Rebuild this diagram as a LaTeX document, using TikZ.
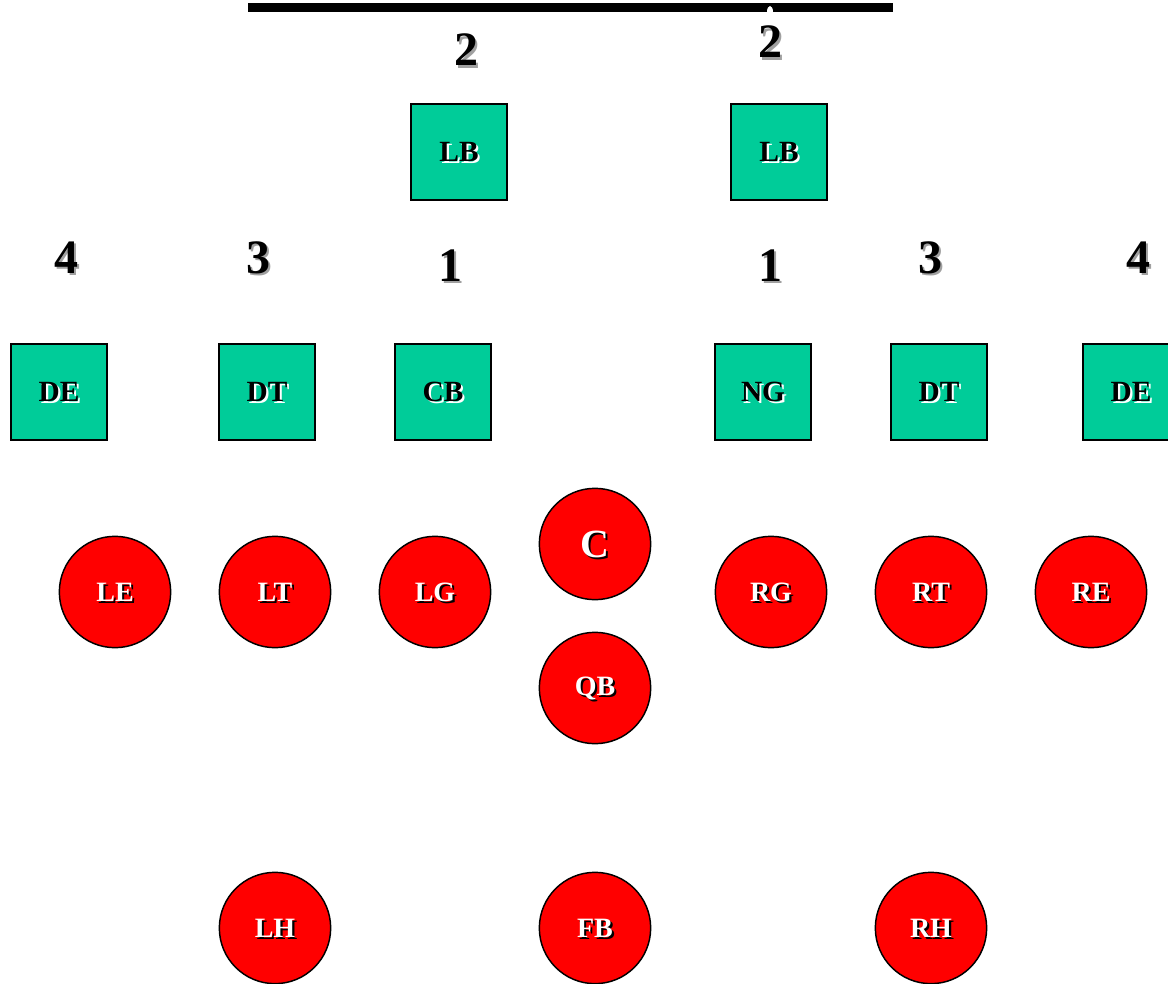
\documentclass[tikz,border=0pt]{standalone}
\usepackage{fontspec}
\setmainfont{Liberation Serif}
\usepackage{xcolor}
\usepackage{tikz}
\definecolor{defgreen}{HTML}{00CC99}
\definecolor{offred}{HTML}{FF0000}
\definecolor{numshade}{HTML}{A0A0A0}
% text with a drop shadow: #1 text colour, #2 shadow colour, #3 text
\newcommand{\shtext}[3]{\rlap{\hspace{1.6pt}\raisebox{-1.6pt}[0pt][0pt]{\color{#2}#3}}{\color{#1}#3}}

\begin{document}
\begin{tikzpicture}[x=0.75pt, y=-0.75pt,
  defbox/.style={draw=black, line width=1.5pt, fill=defgreen, minimum size=71.5pt,
    inner sep=0pt, font=\fontsize{22}{22}\selectfont\bfseries},
  offcirc/.style={circle, draw=black, line width=1.1pt, fill=offred, minimum size=83.5pt,
    inner sep=0pt, font=\fontsize{21}{21}\selectfont\bfseries},
  gapnum/.style={inner sep=0pt, font=\fontsize{36}{36}\selectfont\bfseries}]
  \useasboundingbox (0,0) rectangle (1168,984);
  % line of scrimmage marker
  \coordinate (barL) at (248,7.5);
  \coordinate (barR) at (893,7.5);
  \draw[line width=7pt] (barL) -- (barR);
  \fill[white] (770,12) ellipse (3 and 6);
  % gap numbers
  \node[gapnum] (g2l) at (466,50) {\shtext{black}{numshade}{2}};
  \node[gapnum] (g2r) at (770,42) {\shtext{black}{numshade}{2}};
  \node[gapnum] (g4l) at (66,258) {\shtext{black}{numshade}{4}};
  \node[gapnum] (g3l) at (258,258) {\shtext{black}{numshade}{3}};
  \node[gapnum] (g1l) at (450,266) {\shtext{black}{numshade}{1}};
  \node[gapnum] (g1r) at (770,266) {\shtext{black}{numshade}{1}};
  \node[gapnum] (g3r) at (930,258) {\shtext{black}{numshade}{3}};
  \node[gapnum] (g4r) at (1138,258) {\shtext{black}{numshade}{4}};
  % defence
  \node[defbox] (lbl) at (459,152) {\shtext{black}{white}{LB}};
  \node[defbox] (lbr) at (779,152) {\shtext{black}{white}{LB}};
  \node[defbox] (del) at (59,392) {\shtext{black}{white}{DE}};
  \node[defbox] (dtl) at (267,392) {\shtext{black}{white}{DT}};
  \node[defbox] (cb) at (443,392) {\shtext{black}{white}{CB}};
  \node[defbox] (ng) at (763,392) {\shtext{black}{white}{NG}};
  \node[defbox] (dtr) at (939,392) {\shtext{black}{white}{DT}};
  \node[defbox] (der) at (1131,392) {\shtext{black}{white}{DE}};
  % offence
  \node[offcirc] (le) at (115,592) {\shtext{white}{black}{LE}};
  \node[offcirc] (lt) at (275,592) {\shtext{white}{black}{LT}};
  \node[offcirc] (lg) at (435,592) {\shtext{white}{black}{LG}};
  \node[offcirc, font=\fontsize{30}{30}\selectfont\bfseries] (c) at (595,544) {\shtext{white}{black}{C}};
  \node[offcirc] (rg) at (771,592) {\shtext{white}{black}{RG}};
  \node[offcirc] (rt) at (931,592) {\shtext{white}{black}{RT}};
  \node[offcirc] (re) at (1091,592) {\shtext{white}{black}{RE}};
  \node[offcirc] (qb) at (595,688) {\shtext{white}{black}{QB}};
  \node[offcirc] (lh) at (275,928) {\shtext{white}{black}{LH}};
  \node[offcirc] (fb) at (595,928) {\shtext{white}{black}{FB}};
  \node[offcirc] (rh) at (931,928) {\shtext{white}{black}{RH}};
\end{tikzpicture}
\end{document}
